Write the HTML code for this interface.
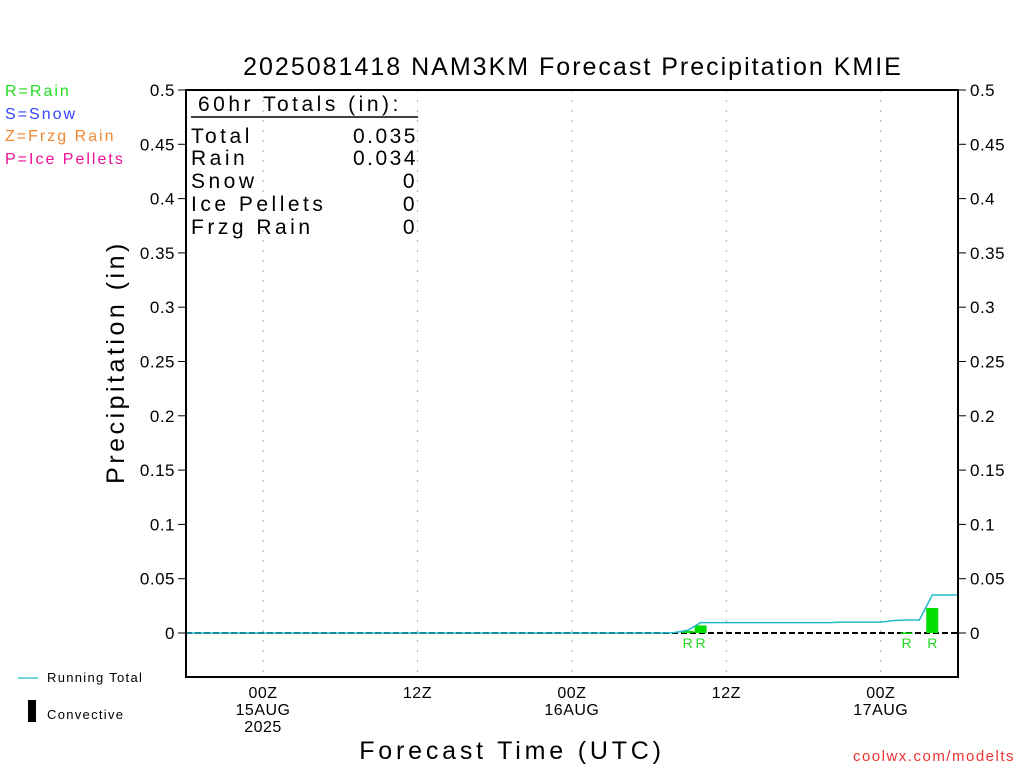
<!DOCTYPE html>
<html><head><meta charset="utf-8"><style>
body{margin:0;background:#fff;}
svg text{font-family:"Liberation Sans",sans-serif;}
</style></head><body>
<svg id="chart" width="1024" height="768" xmlns="http://www.w3.org/2000/svg">
<rect width="1024" height="768" fill="#fff"/>
<text x="573" y="75" font-size="25" text-anchor="middle" letter-spacing="2">2025081418 NAM3KM Forecast Precipitation KMIE</text>
<g font-size="16" letter-spacing="2">
<text x="5" y="96" fill="#22dd22">R=Rain</text>
<text x="5" y="119" fill="#3344ff">S=Snow</text>
<text x="5" y="141" fill="#ee8833">Z=Frzg Rain</text>
<text x="5" y="164" fill="#ee1199">P=Ice Pellets</text>
</g>
<g id="grid"></g>
<g id="axes"></g>
<g id="marks"></g>
<rect x="186" y="90" width="772" height="587" fill="none" stroke="#000" stroke-width="2"/>
<g font-size="21" letter-spacing="3.5">
<text x="198" y="111">60hr Totals (in):</text>
<line x1="191" y1="117" x2="418" y2="117" stroke="#000" stroke-width="1.5"/>
<text x="191" y="143">Total</text><text x="418" y="143" text-anchor="end" letter-spacing="2.5">0.035</text>
<text x="191" y="165">Rain</text><text x="418" y="165" text-anchor="end" letter-spacing="2.5">0.034</text>
<text x="191" y="188">Snow</text><text x="418" y="188" text-anchor="end">0</text>
<text x="191" y="211">Ice Pellets</text><text x="418" y="211" text-anchor="end">0</text>
<text x="191" y="234">Frzg Rain</text><text x="418" y="234" text-anchor="end">0</text>
</g>
<text transform="translate(124,362) rotate(-90)" font-size="25" text-anchor="middle" letter-spacing="3.5">Precipitation (in)</text>
<text x="512" y="759" font-size="25" text-anchor="middle" letter-spacing="3.8">Forecast Time (UTC)</text>
<g font-size="13" letter-spacing="1.3">
<line x1="18" y1="678" x2="38" y2="678" stroke="#22bbcc" stroke-width="1.2"/>
<text x="47" y="682">Running Total</text>
<rect x="28" y="700" width="8" height="22" fill="#000"/>
<text x="47" y="719">Convective</text>
</g>
<text x="1015" y="761" font-size="15" text-anchor="end" fill="#ee3333" letter-spacing="1.5">coolwx.com/modelts</text>
</svg>
<script>
const hours=[38,39,40,51,55,56,58];
const amounts=[0.0005,0.002,0.007,0.0005,0.0015,0.0005,0.023];
const barHours=[39,40,56,58];
const yTicks=[0,0.05,0.1,0.15,0.2,0.25,0.3,0.35,0.4,0.45,0.5];
const yTickLabels=["0","0.05","0.1","0.15","0.2","0.25","0.3","0.35","0.4","0.45","0.5"];
const xTickHours=[6,18,30,42,54];
const xTickLabels=[["00Z","15AUG","2025"],["12Z"],["00Z","16AUG"],["12Z"],["00Z","17AUG"]];
const NS="http://www.w3.org/2000/svg";
const X=h=>185.8+h*(772.2/60);
const Y=v=>633-v*(543/0.5);
function mk(t,a,p){const e=document.createElementNS(NS,t);for(const k in a)e.setAttribute(k,a[k]);p.appendChild(e);return e;}
const grid=document.getElementById('grid'),axes=document.getElementById('axes'),marks=document.getElementById('marks');
xTickHours.forEach((h,i)=>{
 const l=mk('line',{x1:X(h),x2:X(h),y1:90,y2:677,stroke:'#aaa','stroke-dasharray':'2,8'},grid);
 
 
 xTickLabels[i].forEach((s,j)=>{const t=mk('text',{x:X(h),y:698+j*17,'font-size':16,'text-anchor':'middle','letter-spacing':0.5},axes);t.textContent=s;
 
 });
});
yTicks.forEach((v,i)=>{
 mk('line',{x1:178,x2:186,y1:Y(v),y2:Y(v),stroke:'#000'},axes);
 mk('line',{x1:958,x2:966,y1:Y(v),y2:Y(v),stroke:'#000'},axes);
 const a=mk('text',{x:175,y:Y(v)+6,'font-size':17,'text-anchor':'end','letter-spacing':0.5},axes);a.textContent=yTickLabels[i];
 
 
 const b=mk('text',{x:970,y:Y(v)+6,'font-size':17,'letter-spacing':0.5},axes);b.textContent=yTickLabels[i];
 
 
});
const zl=mk('line',{x1:186,x2:958,y1:Y(0),y2:Y(0),stroke:'#000','stroke-width':2,'stroke-dasharray':'6,3'},marks);


hours.forEach((h,i)=>{
 if(barHours.indexOf(h)<0)return;
 const v=amounts[i];
 const r=mk('rect',{x:X(h)-6,y:Y(v),width:12,height:Math.max(Y(0)-Y(v),1.5),fill:'#00dd00'},marks);
 
 
 const t=mk('text',{x:X(h),y:648,'font-size':14,'text-anchor':'middle',fill:'#22dd22'},marks);t.textContent='R';
 
 
});
let cum=0,pts=[];
for(let h=0;h<=60;h++){const i=hours.indexOf(h);if(i>=0)cum+=amounts[i];pts.push(X(h)+','+Y(cum));}
const pl=mk('polyline',{points:pts.join(' '),fill:'none',stroke:'#22bbcc','stroke-width':1.5},marks);


</script>
</body></html>
